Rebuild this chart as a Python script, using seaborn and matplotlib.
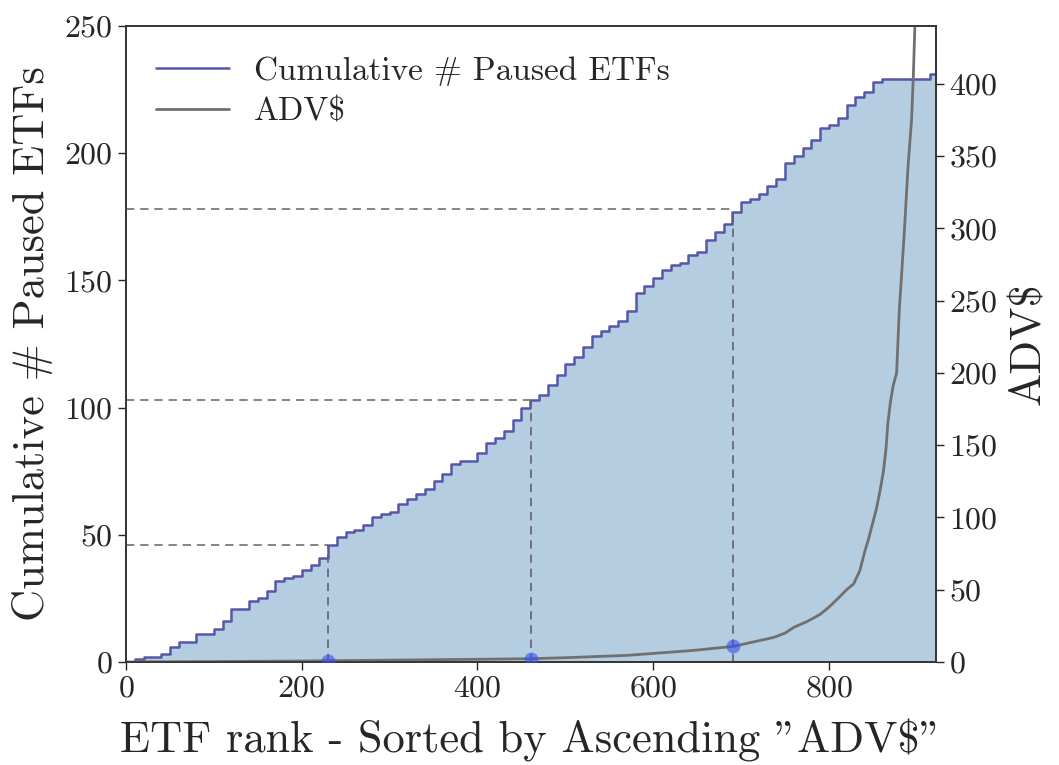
import numpy as np
import pandas as pd
import matplotlib
matplotlib.use("Agg")
import matplotlib.pyplot as plt
import seaborn as sns

# cumulative number of paused ETFs, read every 10 ranks
rank = [0, 10, 20, 30, 40, 50, 60, 70, 80, 90, 100, 110, 120, 130, 140, 150, 160, 170, 180, 190,
        200, 210, 220, 230, 240, 250, 260, 270, 280, 290, 300, 310, 320, 330, 340, 350, 360, 370,
        380, 390, 400, 410, 420, 430, 440, 450, 460, 470, 480, 490, 500, 510, 520, 530, 540, 550,
        560, 570, 580, 590, 600, 610, 620, 630, 640, 650, 660, 670, 680, 690, 700, 710, 720, 730,
        740, 750, 760, 770, 780, 790, 800, 810, 820, 830, 840, 850, 860, 870, 880, 890, 900, 910,
        915, 922]
cum_paused = [0, 1, 2, 2, 3, 6, 8, 8, 11, 11, 13, 16, 21, 21, 24, 25, 28, 32, 33, 34,
              36, 38, 41, 46, 49, 51, 52, 54, 57, 58, 59, 62, 64, 66, 68, 71, 74, 78,
              79, 79, 82, 86, 88, 91, 95, 100, 103, 105, 109, 113, 117, 120, 124, 128, 130, 132,
              134, 138, 145, 148, 151, 154, 156, 157, 160, 161, 166, 169, 172, 177, 181, 182, 184, 187,
              190, 196, 199, 202, 205, 210, 211, 214, 219, 222, 224, 228, 229, 229, 229, 229, 229, 229,
              231, 231]

# ADV$ curve (right axis)
adv_rank = [0, 100, 200, 230, 300, 400, 461, 500, 570, 645, 691, 737, 750, 760, 775, 790, 800,
            812, 820, 828, 835, 841, 845, 848, 854, 858, 862, 865, 867, 870, 873, 877, 880, 883,
            886, 890, 894, 896, 898, 905, 912, 922]
adv_value = [0.05, 0.3, 0.7, 0.9, 1.3, 1.9, 2.3, 3, 4.6, 8, 10.8, 17, 20, 24, 28, 33, 38,
             45, 50, 54, 63, 77, 85, 92, 106, 118, 132, 148, 165, 180, 191, 200, 243, 271,
             300, 343, 375, 405, 444, 520, 700, 1500]

# quartile markers
q_rank = [230, 461, 691]
q_cum = [46, 103, 178]
q_adv = [0.9, 2.3, 10.8]

df = pd.DataFrame({"rank": rank, "cum": cum_paused})
adv = pd.DataFrame({"rank": adv_rank, "adv": adv_value})

sns.set_style("ticks")
plt.rcParams['font.family'] = ['cmr10', 'DejaVu Serif']
plt.rcParams['axes.unicode_minus'] = False
plt.rcParams['axes.formatter.use_mathtext'] = True

fig = plt.figure(figsize=(10.59, 7.65), dpi=100)
ax = fig.add_axes([0.119, 0.1346, 0.765, 0.8314])

fill_color = "#b4cde0"
line_color = "#5656aa"
ax.fill_between(df["rank"], df["cum"], step="post", color=fill_color, lw=0)
sns.lineplot(data=df, x="rank", y="cum", ax=ax, color=line_color, lw=1.8,
             drawstyle="steps-post", label="Cumulative # Paused ETFs", legend=False)

for r, c in zip(q_rank, q_cum):
    ax.plot([0, r], [c, c], ls=(0, (5, 3.5)), color="#707070", lw=1.2, zorder=3)
    ax.plot([r, r], [0, c], ls=(0, (5, 3.5)), color="#606070", lw=1.2, zorder=3)

ax.set_xlim(0, 922)
ax.set_ylim(0, 250)
ax.set_xticks([0, 200, 400, 600, 800])
ax.set_yticks([0, 50, 100, 150, 200, 250])
ax.set_xlabel('ETF rank - Sorted by Ascending "ADV$"', fontsize=32, labelpad=12)
ax.set_ylabel("Cumulative # Paused ETFs", fontsize=32, labelpad=8)
ax.tick_params(labelsize=23, length=6, width=1, direction="out")

ax2 = ax.twinx()
sns.lineplot(data=adv, x="rank", y="adv", ax=ax2, color="#707070", lw=2,
             label="ADV$", legend=False)
ax2.scatter(q_rank, q_adv, s=100, color="#3a4ef0", alpha=0.6, zorder=5, lw=0)
ax2.set_ylim(0, 440)
ax2.set_yticks([0, 50, 100, 150, 200, 250, 300, 350, 400])
ax2.set_ylabel("ADV$", fontsize=32, labelpad=8)
ax2.tick_params(labelsize=23, length=6, width=1, direction="out")

for a in (ax, ax2):
    for s in a.spines.values():
        s.set_linewidth(1.2)
        s.set_color("#333333")

h1, l1 = ax.get_legend_handles_labels()
h2, l2 = ax2.get_legend_handles_labels()
ax2.legend(h1 + h2, l1 + l2, loc="upper left", frameon=False, fontsize=24,
           handlelength=2.2, handletextpad=0.75, borderaxespad=0.5, labelspacing=0.35)

fig.savefig("out.png", dpi=100)
